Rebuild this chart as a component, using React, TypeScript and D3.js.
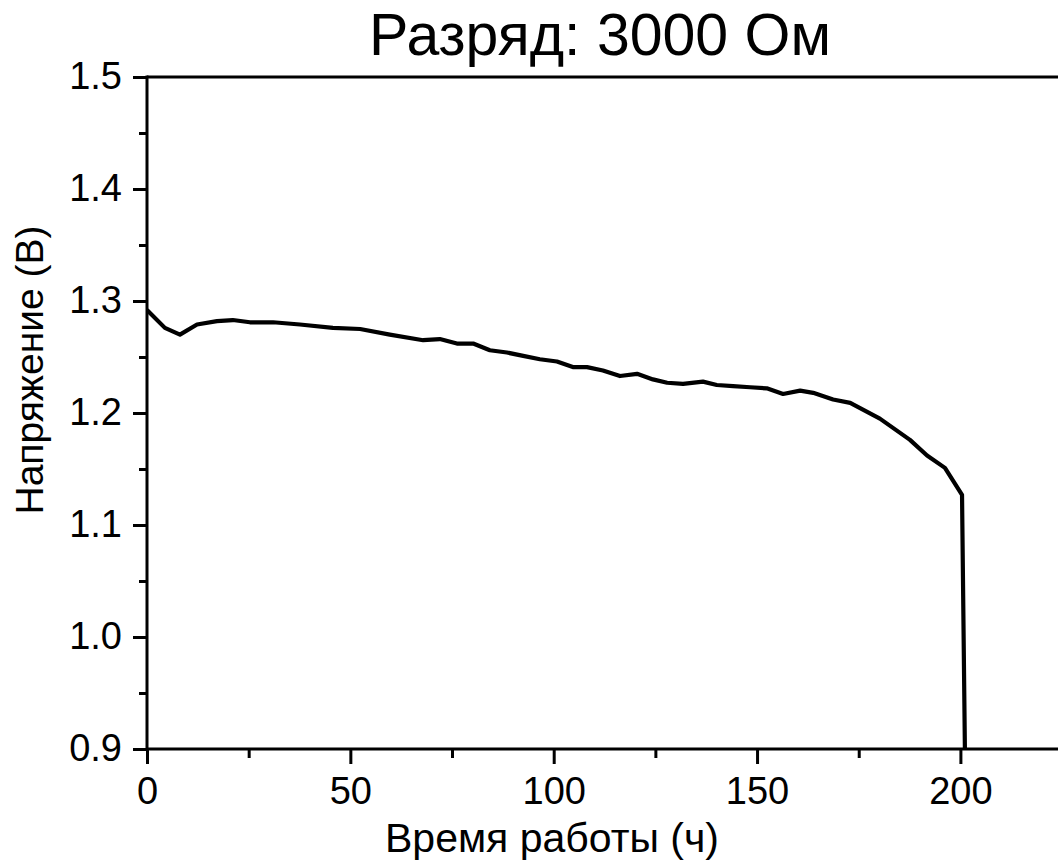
import React, { useEffect, useRef } from 'react';
import * as d3 from 'd3';

const WIDTH = 1058;
const HEIGHT = 860;
const MARGIN = { top: 77, left: 147, bottom: 749 };
const FONT = '"Liberation Sans", Arial, sans-serif';

// Время работы (ч)
const hours = [
  0, 4.4, 8.1, 12.3, 17.2, 21.1, 25.3, 31.0, 37.6, 45.7, 52.4, 59.7, 67.9, 72.0,
  76.2, 80.2, 84.3, 88.5, 92.5, 96.6, 100.8, 104.7, 108.2, 112.1, 116.3, 120.5,
  124.4, 127.9, 131.8, 136.7, 140.1, 144.1, 148.3, 152.4, 156.4, 160.6, 163.8,
  168.7, 172.9, 180.2, 187.6, 191.8, 196.2, 200.4, 201.2,
];
// Напряжение (В)
const voltage = [
  1.292, 1.276, 1.270, 1.279, 1.282, 1.283, 1.281, 1.281, 1.279, 1.276, 1.275, 1.270,
  1.265, 1.266, 1.262, 1.262, 1.256, 1.254, 1.251, 1.248, 1.246, 1.241, 1.241, 1.238,
  1.233, 1.235, 1.230, 1.227, 1.226, 1.228, 1.225, 1.224, 1.223, 1.222, 1.217, 1.220,
  1.218, 1.212, 1.209, 1.195, 1.176, 1.162, 1.151, 1.127, 0.87,
];

const xMajor = [0, 50, 100, 150, 200];
const xMinor = [25, 75, 125, 175, 225];
const yMajor = [0.9, 1.0, 1.1, 1.2, 1.3, 1.4, 1.5];
const yMinor = [0.95, 1.05, 1.15, 1.25, 1.35, 1.45];

const TITLE = 'Разряд: 3000 Ом';
const X_LABEL = 'Время работы (ч)';
const Y_LABEL = 'Напряжение (В)';

const App: React.FC = () => {
  const svgRef = useRef<SVGSVGElement>(null);

  useEffect(() => {
    const svg = d3.select(svgRef.current);
    svg.selectAll('*').remove();

    const x = d3.scaleLinear().domain([0, 225]).range([MARGIN.left, MARGIN.left + 225 * 4.067]);
    const y = d3.scaleLinear().domain([0.9, 1.5]).range([MARGIN.bottom, MARGIN.top]);
    const right = x(225);

    svg.append('defs').append('clipPath').attr('id', 'plot-clip')
      .append('rect')
      .attr('x', MARGIN.left).attr('y', MARGIN.top)
      .attr('width', right - MARGIN.left).attr('height', MARGIN.bottom - MARGIN.top);

    // data line
    const line = d3.line<number>()
      .x((_, i) => x(hours[i]))
      .y(v => y(v));
    svg.append('path')
      .datum(voltage)
      .attr('clip-path', 'url(#plot-clip)')
      .attr('fill', 'none')
      .attr('stroke', '#000')
      .attr('stroke-width', 4.2)
      .attr('stroke-linejoin', 'round')
      .attr('d', line);

    const styleAxis = (sel: d3.Selection<SVGGElement, unknown, null, undefined>) => {
      sel.select('.domain').remove();
      sel.selectAll('.tick line').attr('stroke', '#000').attr('stroke-width', 3);
      sel.selectAll('text').attr('fill', '#000').attr('font-family', FONT).attr('font-size', 38);
    };

    // y axis
    svg.append('g')
      .attr('transform', `translate(${MARGIN.left},0)`)
      .call(d3.axisLeft(y).tickValues(yMajor).tickSize(14).tickPadding(11).tickFormat(d3.format('.1f')))
      .call(styleAxis)
      .call(sel => sel.selectAll('text').attr('dy', '0.3em'));
    svg.append('g')
      .attr('transform', `translate(${MARGIN.left},0)`)
      .call(d3.axisLeft(y).tickValues(yMinor).tickSize(8).tickFormat(() => ''))
      .call(styleAxis);

    // x axis
    svg.append('g')
      .attr('transform', `translate(0,${MARGIN.bottom})`)
      .call(d3.axisBottom(x).tickValues(xMajor).tickSize(15).tickPadding(6).tickFormat(d3.format('d')))
      .call(styleAxis)
      .call(sel => sel.selectAll('text').attr('dy', '0.9em'));
    svg.append('g')
      .attr('transform', `translate(0,${MARGIN.bottom})`)
      .call(d3.axisBottom(x).tickValues(xMinor).tickSize(9).tickFormat(() => ''))
      .call(styleAxis);

    // frame lines: left, bottom, top
    svg.append('line')
      .attr('x1', MARGIN.left).attr('x2', MARGIN.left)
      .attr('y1', MARGIN.top - 1.5).attr('y2', MARGIN.bottom + 1.5)
      .attr('stroke', '#000').attr('stroke-width', 3);
    svg.append('line')
      .attr('x1', MARGIN.left).attr('x2', right)
      .attr('y1', MARGIN.bottom).attr('y2', MARGIN.bottom)
      .attr('stroke', '#000').attr('stroke-width', 3);
    svg.append('line')
      .attr('x1', MARGIN.left).attr('x2', right)
      .attr('y1', MARGIN.top).attr('y2', MARGIN.top)
      .attr('stroke', '#000').attr('stroke-width', 3);

    // title
    svg.append('text')
      .attr('x', 600).attr('y', 55)
      .attr('text-anchor', 'middle')
      .attr('font-family', FONT).attr('font-size', 59)
      .attr('fill', '#000')
      .text(TITLE);

    // axis labels
    svg.append('text')
      .attr('x', 552).attr('y', 852)
      .attr('text-anchor', 'middle')
      .attr('font-family', FONT).attr('font-size', 41)
      .attr('fill', '#000')
      .text(X_LABEL);
    svg.append('text')
      .attr('transform', `translate(43,370) rotate(-90)`)
      .attr('text-anchor', 'middle')
      .attr('font-family', FONT).attr('font-size', 39)
      .attr('fill', '#000')
      .text(Y_LABEL);
  }, []);

  return (
    <svg
      ref={svgRef}
      width={WIDTH}
      height={HEIGHT}
      style={{ position: 'absolute', left: 0, top: 0, background: '#fff', display: 'block' }}
    />
  );
};

export default App;
